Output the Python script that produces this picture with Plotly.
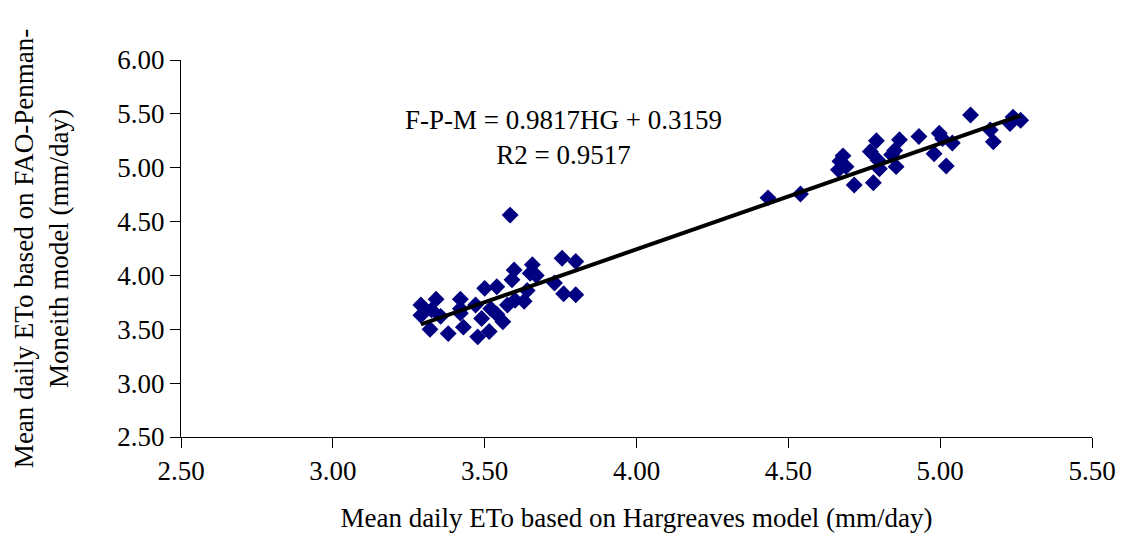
import plotly.graph_objects as go

# Hargreaves (x) vs FAO-Penman-Monteith (y), mean daily ETo (mm/day)
hg = [3.584, 3.29, 3.34, 3.29, 3.325, 3.355, 3.32, 3.38, 3.42, 3.42, 3.43, 3.42,
      3.477, 3.47, 3.49, 3.50, 3.515, 3.52, 3.54, 3.54, 3.56, 3.575, 3.597, 3.59,
      3.60, 3.63, 3.657, 3.65, 3.64, 3.67, 3.755, 3.80, 3.73, 3.76, 3.80,
      4.433, 4.54, 4.68, 4.67, 4.665, 4.69, 4.717, 4.77, 4.79, 4.78, 4.80, 4.795,
      4.855, 4.866, 4.85, 4.84, 4.93, 4.997, 4.98, 5.02, 5.04, 5.008, 5.10, 5.165,
      5.175, 5.23, 5.24, 5.265]
fpm = [4.56, 3.725, 3.78, 3.63, 3.68, 3.62, 3.50, 3.46, 3.78, 3.69, 3.52, 3.65,
       3.43, 3.725, 3.60, 3.88, 3.48, 3.69, 3.895, 3.64, 3.57, 3.725, 4.05, 3.96,
       3.77, 3.76, 4.10, 4.02, 3.86, 4.00, 4.16, 4.13, 3.93, 3.83, 3.82,
       4.72, 4.756, 5.11, 5.06, 4.98, 5.01, 4.84, 5.15, 5.25, 4.86, 4.99, 5.07,
       5.01, 5.26, 5.16, 5.12, 5.29, 5.32, 5.13, 5.016, 5.23, 5.27, 5.49, 5.35,
       5.24, 5.41, 5.47, 5.44]

slope = 0.9817
intercept = 0.3159
r2 = 0.9517

x_ticks = [2.5, 3.0, 3.5, 4.0, 4.5, 5.0, 5.5]
y_ticks = [2.5, 3.0, 3.5, 4.0, 4.5, 5.0, 5.5, 6.0]

line_x = [min(hg), max(hg)]
line_y = [slope * v + intercept for v in line_x]

FONT = "Liberation Serif, Times New Roman, serif"
FS = 27

fig = go.Figure()
fig.add_trace(go.Scatter(
    x=hg, y=fpm, mode="markers",
    marker=dict(symbol="diamond", size=13, color="#000080",
                line=dict(width=0)),
    showlegend=False, cliponaxis=False))
fig.add_trace(go.Scatter(
    x=line_x, y=line_y, mode="lines",
    line=dict(color="black", width=4),
    showlegend=False))

fig.add_annotation(
    x=0.42, y=0.885, xref="paper", yref="paper", xanchor="center", yanchor="top",
    text=f"F-P-M = {slope}HG + {intercept}<br>R2 = {r2}",
    showarrow=False, align="center",
    font=dict(family=FONT, size=FS, color="black"))

fig.update_layout(
    width=1128, height=539,
    margin=dict(l=181, r=31, t=60, b=102),
    paper_bgcolor="white", plot_bgcolor="white",
    font=dict(family=FONT, size=FS, color="black"),
    xaxis=dict(
        range=[2.5, 5.5], tickvals=x_ticks,
        ticktext=[f"{v:.2f}" for v in x_ticks],
        showgrid=False, zeroline=False, showline=True, linecolor="black",
        linewidth=1, ticks="outside", ticklen=10, tickcolor="black",
        tickfont=dict(family=FONT, size=FS),
        title=dict(text="Mean daily ETo based on Hargreaves model (mm/day)",
                   font=dict(family=FONT, size=FS), standoff=22)),
    yaxis=dict(
        range=[2.5, 6.0], tickvals=y_ticks,
        ticktext=[f"{v:.2f}" for v in y_ticks],
        showgrid=False, zeroline=False, showline=True, linecolor="black",
        linewidth=1, ticks="outside", ticklen=10, tickcolor="black",
        tickfont=dict(family=FONT, size=FS),
        title=dict(text="Mean daily ETo based on FAO-Penman-<br>Moneith model (mm/day)",
                   font=dict(family=FONT, size=FS), standoff=40)),
)

fig.write_html("out.html")
